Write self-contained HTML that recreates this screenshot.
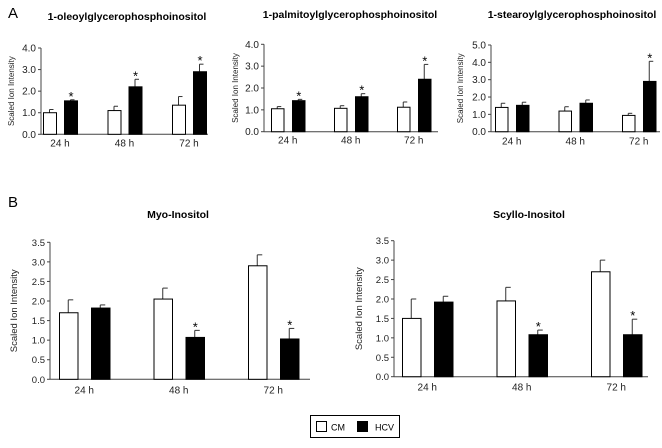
<!DOCTYPE html>
<html><head><meta charset="utf-8"><style>
html,body{margin:0;padding:0;background:#fff;}
svg{display:block;font-family:"Liberation Sans",Arial,sans-serif;}
</style></head><body>
<svg id="fig" width="662" height="448" viewBox="0 0 662 448" xmlns="http://www.w3.org/2000/svg">
<text x="8" y="18" font-size="15">A</text>
<text x="8" y="207" font-size="15">B</text>
<g id="charts"></g>
<g>
<rect x="310.5" y="415.5" width="89" height="22" fill="#fff" stroke="#000"/>
<rect x="316.5" y="421.5" width="10" height="10" fill="#fff" stroke="#000"/>
<text x="331" y="430.5" font-size="9">CM</text>
<rect x="357" y="421" width="11" height="11" fill="#000"/>
<text x="375" y="430.5" font-size="9">HCV</text>
</g>
</svg>
<script>
const categories = ["24 h","48 h","72 h"];
// chart 1: oleoyl
const c1Cm = [1.0,1.1,1.35], c1CmErr = [0.15,0.2,0.4];
const c1Hcv = [1.55,2.2,2.9], c1HcvErr = [0.05,0.35,0.35];
const c1Sig = [true,true,true];
// chart 2: palmitoyl
const c2Cm = [1.05,1.07,1.12], c2CmErr = [0.1,0.12,0.24];
const c2Hcv = [1.42,1.6,2.4], c2HcvErr = [0.06,0.14,0.68];
const c2Sig = [true,true,true];
// chart 3: stearoyl
const c3Cm = [1.4,1.19,0.94], c3CmErr = [0.24,0.25,0.12];
const c3Hcv = [1.52,1.64,2.9], c3HcvErr = [0.18,0.19,1.16];
const c3Sig = [false,false,true];
// chart 4: myo-inositol
const c4Cm = [1.7,2.05,2.9], c4CmErr = [0.33,0.28,0.28];
const c4Hcv = [1.82,1.07,1.03], c4HcvErr = [0.08,0.18,0.27];
const c4Sig = [false,true,true];
// chart 5: scyllo-inositol
const c5Cm = [1.5,1.95,2.7], c5CmErr = [0.5,0.35,0.3];
const c5Hcv = [1.92,1.08,1.08], c5HcvErr = [0.15,0.12,0.4];
const c5Sig = [false,true,true];
const ticksA = [0,1,2,3,4], ticksA3 = [0,1,2,3,4,5], ticksB = [0,0.5,1,1.5,2,2.5,3,3.5];

const NS="http://www.w3.org/2000/svg";
const root=document.getElementById('charts');
function mk(tag,at,parent){const e=document.createElementNS(NS,tag);for(const k in at)e.setAttribute(k,at[k]);(parent||root).appendChild(e);return e;}

function chart(o){
  const g=mk('g',{});
  
  
  const ys=v=>o.y0-(v/o.max)*(o.y0-o.yTop);
  const t=mk('text',{x:o.titleX,y:o.titleY,'font-size':o.tfs,'font-weight':'bold','text-anchor':'middle'},g);
  t.textContent=o.title;
  
  
  const ax=mk('line',{x1:o.ax,y1:o.yTop,x2:o.ax,y2:o.y0,stroke:'#444','stroke-width':1},g);
  
  
  const xa=mk('line',{x1:o.ax,y1:o.y0,x2:o.axEnd,y2:o.y0,stroke:'#444','stroke-width':1},g);
  
  
  o.ticks.forEach(v=>{
    const y=ys(v);
    mk('line',{x1:o.ax-3,y1:y,x2:o.ax,y2:y,stroke:'#444'},g);
    const tl=mk('text',{x:o.ax-5,y:y+3.5,'font-size':o.fs,'text-anchor':'end',fill:'#222'},g);
    tl.textContent=v.toFixed(1);
    
    
  });
  const yl=mk('text',{transform:`translate(${o.ylX},${(o.y0+o.yTop)/2}) rotate(-90)`,'font-size':o.yfs,'text-anchor':'middle',fill:'#222'},g);
  yl.textContent='Scaled Ion Intensity';
  
  
  categories.forEach((c,i)=>{
    const gx=o.g0+i*o.gStep;
    const series=[[o.cm,o.cmE,'#fff',0,'bar-cm'],[o.hcv,o.hcvE,'#000',o.off,'bar-hcv']];
    series.forEach(([vals,errs,fill,off,nm])=>{
      const x=gx+off, top=ys(vals[i]), et=ys(vals[i]+errs[i]);
      const cx=x+o.bw/2;
      const eb=mk('line',{x1:cx,y1:top,x2:cx,y2:et,stroke:'#333'},g);
      
      
      mk('line',{x1:cx,y1:et,x2:cx+o.cap,y2:et,stroke:'#333'},g);
      const r=mk('rect',{x:x+0.5,y:top,width:o.bw,height:o.y0-top,fill:fill,stroke:'#000','stroke-width':1},g);
      
      
      if(fill==='#000'&&o.sig[i]){
        const s=mk('text',{x:cx+0.5,y:et+1,'font-size':13,'text-anchor':'middle'},g);
        s.textContent='*';
        
        
      }
    });
    const cl=mk('text',{x:gx+o.off/2+o.bw/2,y:o.y0+o.lblDy,'font-size':o.cfs,'text-anchor':'middle',fill:'#222'},g);
    cl.textContent=c;
    
    
  });
}
chart({name:'chart-oleoyl',title:'1-oleoylglycerophosphoinositol',titleX:127,titleY:20,tfs:10.5,ax:41,axEnd:208,y0:134.3,yTop:48,max:4,ticks:ticksA,ylX:14,fs:10,yfs:8,cfs:10,
  g0:43,gStep:64.5,off:21,bw:13,cap:4,lblDy:12,cm:c1Cm,cmE:c1CmErr,hcv:c1Hcv,hcvE:c1HcvErr,sig:c1Sig});
chart({name:'chart-palmitoyl',title:'1-palmitoylglycerophosphoinositol',titleX:350,titleY:18,tfs:10.5,ax:264,axEnd:438,y0:131.7,yTop:44.3,max:4,ticks:ticksA,ylX:238,fs:10,yfs:8,cfs:10,
  g0:271,gStep:63,off:21,bw:12.5,cap:4,lblDy:12,cm:c2Cm,cmE:c2CmErr,hcv:c2Hcv,hcvE:c2HcvErr,sig:c2Sig});
chart({name:'chart-stearoyl',title:'1-stearoylglycerophosphoinositol',titleX:572,titleY:18,tfs:10.5,ax:491,axEnd:660,y0:131.7,yTop:45,max:5,ticks:ticksA3,ylX:463,fs:10,yfs:8,cfs:10,
  g0:495,gStep:63.5,off:21,bw:12.5,cap:4,lblDy:13,cm:c3Cm,cmE:c3CmErr,hcv:c3Hcv,hcvE:c3HcvErr,sig:c3Sig});
chart({name:'chart-myo-inositol',title:'Myo-Inositol',titleX:178,titleY:218,tfs:10.5,ax:50,axEnd:310,y0:379.3,yTop:242.3,max:3.5,ticks:ticksB,ylX:17,fs:9.5,yfs:9.5,cfs:10,
  g0:59,gStep:94.5,off:32,bw:18.5,cap:5,lblDy:14,cm:c4Cm,cmE:c4CmErr,hcv:c4Hcv,hcvE:c4HcvErr,sig:c4Sig});
chart({name:'chart-scyllo-inositol',title:'Scyllo-Inositol',titleX:529,titleY:218,tfs:10.5,ax:394,axEnd:648,y0:376.7,yTop:240.7,max:3.5,ticks:ticksB,ylX:362,fs:9.5,yfs:9.5,cfs:10,
  g0:402,gStep:94.5,off:32,bw:18.5,cap:5,lblDy:14,cm:c5Cm,cmE:c5CmErr,hcv:c5Hcv,hcvE:c5HcvErr,sig:c5Sig});
</script>
</body></html>
